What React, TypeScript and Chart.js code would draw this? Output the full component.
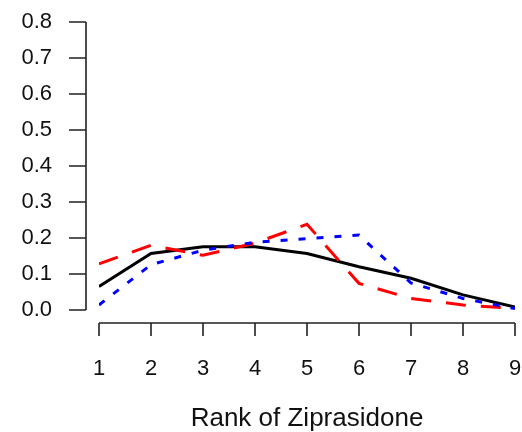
import React, { useEffect, useRef } from "react";
import { Chart, registerables } from "chart.js";

Chart.register(...registerables);

const ranks = [1, 2, 3, 4, 5, 6, 7, 8, 9];
const blackSeries = [0.065, 0.157, 0.176, 0.176, 0.157, 0.12, 0.088, 0.042, 0.008];
const redSeries = [0.128, 0.18, 0.152, 0.186, 0.238, 0.074, 0.032, 0.014, 0.004];
const blueSeries = [0.014, 0.126, 0.166, 0.188, 0.198, 0.208, 0.075, 0.032, 0.004];
const yTicks = [0, 0.1, 0.2, 0.3, 0.4, 0.5, 0.6, 0.7, 0.8];
const xTitle = "Rank of Ziprasidone";

const FONT = "'Liberation Sans', Arial, sans-serif";

const rAxesPlugin = {
  id: "rAxes",
  afterDraw(chart: any) {
    const { ctx, chartArea, scales } = chart;
    const xs = scales.x;
    const ys = scales.y;
    ctx.save();
    ctx.strokeStyle = "#222";
    ctx.lineWidth = 1.6;
    ctx.lineCap = "butt";
    // y axis
    const ax = chartArea.left - 13;
    ctx.beginPath();
    ctx.moveTo(ax, ys.getPixelForValue(yTicks[0]));
    ctx.lineTo(ax, ys.getPixelForValue(yTicks[yTicks.length - 1]));
    yTicks.forEach((v) => {
      const py = ys.getPixelForValue(v);
      ctx.moveTo(ax, py);
      ctx.lineTo(ax - 17, py);
    });
    ctx.stroke();
    // x axis
    const ay = chartArea.bottom + 13;
    ctx.beginPath();
    ctx.moveTo(xs.getPixelForValue(ranks[0]), ay);
    ctx.lineTo(xs.getPixelForValue(ranks[ranks.length - 1]), ay);
    ranks.forEach((v) => {
      const px = xs.getPixelForValue(v);
      ctx.moveTo(px, ay);
      ctx.lineTo(px, ay + 13);
    });
    ctx.stroke();
    ctx.restore();
  },
};

function zeroPad(scale: any) {
  scale.paddingTop = 0;
  scale.paddingBottom = 0;
  scale.paddingLeft = 0;
  scale.paddingRight = 0;
}

export default function App() {
  const ref = useRef<HTMLCanvasElement | null>(null);
  useEffect(() => {
    if (!ref.current) return;
    const toPts = (arr: number[]) => ranks.map((r, i) => ({ x: r, y: arr[i] }));
    const chart = new Chart(ref.current, {
      type: "line",
      data: {
        datasets: [
          {
            data: toPts(blueSeries),
            borderColor: "#0000FF",
            borderWidth: 3,
            borderDash: [7, 11],
            pointRadius: 0,
            tension: 0,
          },
          {
            data: toPts(redSeries),
            borderColor: "#FF0000",
            borderWidth: 3,
            borderDash: [20, 15],
            pointRadius: 0,
            tension: 0,
          },
          {
            data: toPts(blackSeries),
            borderColor: "#000000",
            borderWidth: 3,
            pointRadius: 0,
            tension: 0,
          },
        ],
      },
      options: {
        animation: false,
        responsive: true,
        maintainAspectRatio: false,
        layout: { padding: { top: 22, right: 7, left: 0, bottom: 0 } },
        plugins: {
          legend: { display: false },
          tooltip: { enabled: false },
        },
        scales: {
          x: {
            type: "linear",
            min: 1,
            max: 9,
            grid: { display: false, drawTicks: false },
            border: { display: false },
            ticks: {
              stepSize: 1,
              padding: 46,
              color: "#111",
              font: { family: FONT, size: 22 },
              maxRotation: 0,
            },
            title: {
              display: true,
              text: xTitle,
              color: "#111",
              font: { family: FONT, size: 26, lineHeight: 1 },
              padding: { top: 0, bottom: 0 },
            },
            afterFit(scale: any) {
              scale.height = 122;
              zeroPad(scale);
            },
          },
          y: {
            type: "linear",
            min: 0,
            max: 0.8,
            grid: { display: false, drawTicks: false },
            border: { display: false },
            ticks: {
              stepSize: 0.1,
              padding: 47,
              color: "#111",
              font: { family: FONT, size: 22 },
              callback: (v: any) => Number(v).toFixed(1),
            },
            afterFit(scale: any) {
              scale.width = 99;
              zeroPad(scale);
            },
          },
        },
      },
      plugins: [rAxesPlugin],
    });
    return () => chart.destroy();
  }, []);
  return (
    <div style={{ position: "absolute", left: 0, top: 0, width: 522, height: 432, background: "#fff" }}>
      <canvas ref={ref} />
    </div>
  );
}
